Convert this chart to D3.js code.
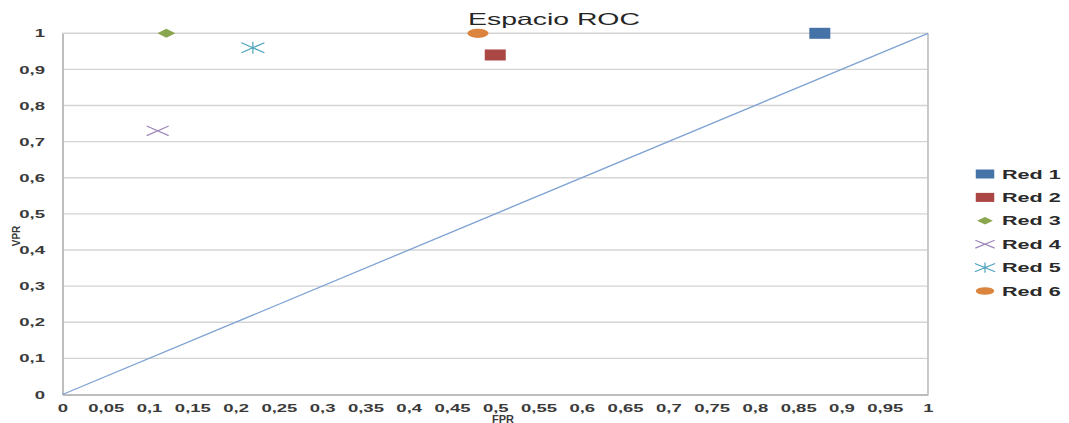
<!DOCTYPE html>
<html>
<head>
<meta charset="utf-8">
<script src="https://cdn.jsdelivr.net/npm/d3@7/dist/d3.min.js"></script>
<style>
  html, body { margin: 0; padding: 0; background: #fff; }
  svg { display: block; }
  text { font-family: "Liberation Sans", Arial, sans-serif; }
</style>
</head>
<body>
<svg id="chart" width="1069" height="423"></svg>
<script>
// ROC space: one point per network (FPR, TPR/VPR)
const seriesNames = ["Red 1", "Red 2", "Red 3", "Red 4", "Red 5", "Red 6"];
const fprValues   = [0.875, 0.50, 0.12, 0.11, 0.22, 0.48];
const vprValues   = [1.00, 0.94, 1.00, 0.73, 0.96, 1.00];
const seriesColors = ["#4572A7", "#AA4643", "#89A54E", "#9B86B8", "#4BA3BD", "#DB843D"];
const seriesShapes = ["square", "square", "diamond", "cross", "star", "circle"];

const xTickValues = [0, 0.05, 0.1, 0.15, 0.2, 0.25, 0.3, 0.35, 0.4, 0.45, 0.5,
                     0.55, 0.6, 0.65, 0.7, 0.75, 0.8, 0.85, 0.9, 0.95, 1];
const yTickValues = [0, 0.1, 0.2, 0.3, 0.4, 0.5, 0.6, 0.7, 0.8, 0.9, 1];
const diagonal = [[0, 0], [1, 1]];

const titleText = "Espacio ROC";
const xTitle = "FPR";
const yTitle = "VPR";

// horizontal stretch applied to text glyphs
const SX = 1.85;

const svg = d3.select("#chart");
const plot = { left: 62.5, right: 928, top: 33.3, bottom: 394.5 };

const x = d3.scaleLinear().domain([0, 1]).range([plot.left, plot.right]);
const y = d3.scaleLinear().domain([0, 1]).range([plot.bottom, plot.top]);

const fmt = v => String(+v.toFixed(2)).replace(".", ",");

// horizontal gridlines
svg.append("g")
  .selectAll("line")
  .data(yTickValues.filter(v => v > 0))
  .join("line")
  .attr("x1", plot.left).attr("x2", plot.right)
  .attr("y1", d => y(d)).attr("y2", d => y(d))
  .attr("stroke", "#d4d4d4").attr("stroke-width", 1.4);

// right border of the plot area
svg.append("line")
  .attr("x1", plot.right).attr("x2", plot.right)
  .attr("y1", plot.top).attr("y2", plot.bottom)
  .attr("stroke", "#c4c4c4").attr("stroke-width", 1.8);

// y axis
const yAxis = svg.append("g")
  .attr("transform", `translate(${plot.left},0)`)
  .call(d3.axisLeft(y).tickValues(yTickValues).tickSize(0).tickFormat(fmt));
yAxis.select(".domain").attr("stroke", "#bdbdbd").attr("stroke-width", 2);
yAxis.selectAll("text")
  .attr("x", -17.5 / SX)
  .attr("dy", "0.36em")
  .attr("transform", `scale(${SX},1)`)
  .attr("font-size", 10)
  .attr("font-weight", "bold")
  .attr("fill", "#3a3a3a")
  .attr("text-anchor", "end");

// x axis
const xAxis = svg.append("g")
  .attr("transform", `translate(0,${plot.bottom})`)
  .call(d3.axisBottom(x).tickValues(xTickValues).tickSize(0).tickFormat(fmt));
xAxis.select(".domain").attr("stroke", "#bdbdbd").attr("stroke-width", 2);
xAxis.selectAll("text")
  .attr("y", 17.5)
  .attr("dy", 0)
  .attr("transform", `scale(${SX},1)`)
  .attr("font-size", 10)
  .attr("font-weight", "bold")
  .attr("fill", "#3a3a3a")
  .attr("text-anchor", "middle");

// reference diagonal (random classifier)
svg.append("path")
  .datum(diagonal)
  .attr("d", d3.line().x(d => x(d[0])).y(d => y(d[1])))
  .attr("fill", "none")
  .attr("stroke", "#7EA3D3")
  .attr("stroke-width", 1.3);

// marker shapes, half width w / half height h
function drawMarker(g, shape, color, w, h) {
  if (shape === "square") {
    g.append("path").attr("d", `M${-w},${-h}H${w}V${h}H${-w}Z`).attr("fill", color);
  } else if (shape === "diamond") {
    g.append("path").attr("d", `M0,${-h}L${w},0L0,${h}L${-w},0Z`).attr("fill", color);
  } else if (shape === "circle") {
    g.append("ellipse").attr("rx", w).attr("ry", h).attr("fill", color);
  } else if (shape === "cross") {
    g.append("path").attr("d", `M${-w},${-h}L${w},${h}M${-w},${h}L${w},${-h}`)
      .attr("stroke", color).attr("stroke-width", 1.2).attr("fill", "none");
  } else if (shape === "star") {
    g.append("path").attr("d", `M${-w},${-h}L${w},${h}M${-w},${h}L${w},${-h}M0,${-h - 1}V${h + 1}`)
      .attr("stroke", color).attr("stroke-width", 1.2).attr("fill", "none");
  }
}

const markerSize = {
  square: [10.5, 5.5], diamond: [9, 4.5], circle: [10.5, 4.6], cross: [11, 4.8], star: [11.5, 5]
};

const points = seriesNames.map((name, i) => ({
  name, fpr: fprValues[i], vpr: vprValues[i], color: seriesColors[i], shape: seriesShapes[i]
}));

const pts = svg.append("g");
points.forEach(p => {
  const g = pts.append("g").attr("transform", `translate(${x(p.fpr)},${y(p.vpr)})`);
  const [w, h] = markerSize[p.shape];
  drawMarker(g, p.shape, p.color, w, h);
});

// title
svg.append("text")
  .attr("transform", `translate(554,25) scale(1.72,1)`)
  .attr("text-anchor", "middle")
  .attr("font-size", 16.5)
  .attr("fill", "#262626")
  .text(titleText);

// axis titles
svg.append("text")
  .attr("x", 503).attr("y", 422.5)
  .attr("text-anchor", "middle")
  .attr("font-size", 11)
  .attr("font-weight", "bold")
  .attr("fill", "#3a3a3a")
  .text(xTitle);

svg.append("text")
  .attr("transform", "translate(20,236) rotate(-90)")
  .attr("text-anchor", "middle")
  .attr("font-size", 10)
  .attr("font-weight", "bold")
  .attr("fill", "#3a3a3a")
  .text(yTitle);

// legend
const legend = svg.append("g").attr("transform", "translate(985,174)");
points.forEach((p, i) => {
  const g = legend.append("g").attr("transform", `translate(0,${i * 23.4})`);
  const [w, h] = markerSize[p.shape];
  drawMarker(g, p.shape, p.color, w * 0.88, h * 0.82);
  g.append("text")
    .attr("transform", `translate(17,4.5) scale(1.8,1)`)
    .attr("font-size", 12)
    .attr("font-weight", "bold")
    .attr("fill", "#2a2a2a")
    .text(p.name);
});
</script>
</body>
</html>
